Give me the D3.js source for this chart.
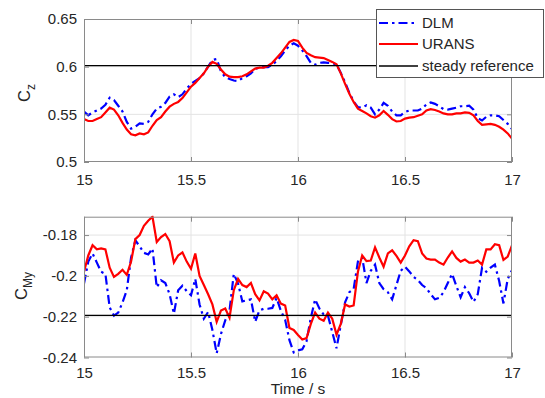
<!DOCTYPE html>
<html><head><meta charset="utf-8">
<script src="https://cdn.jsdelivr.net/npm/d3@7"></script>
<style>
body{margin:0;background:#fff}
svg{display:block}
text{font-family:"Liberation Sans",Arial,Helvetica,sans-serif;fill:#262626}
</style>
</head><body>
<svg id="c" width="545" height="398"></svg>
<script>
const time=[15,15.02,15.04,15.06,15.08,15.1,15.12,15.14,15.16,15.18,
15.2,15.22,15.24,15.26,15.28,15.3,15.32,15.34,15.36,15.38,
15.4,15.42,15.44,15.46,15.48,15.5,15.52,15.54,15.56,15.58,
15.6,15.62,15.64,15.66,15.68,15.7,15.72,15.74,15.76,15.78,
15.8,15.82,15.84,15.86,15.88,15.9,15.92,15.94,15.96,15.98,
16,16.02,16.04,16.06,16.08,16.1,16.12,16.14,16.16,16.18,
16.2,16.22,16.24,16.26,16.28,16.3,16.32,16.34,16.36,16.38,
16.4,16.42,16.44,16.46,16.48,16.5,16.52,16.54,16.56,16.58,
16.6,16.62,16.64,16.66,16.68,16.7,16.72,16.74,16.76,16.78,
16.8,16.82,16.84,16.86,16.88,16.9,16.92,16.94,16.96,16.98,17];

const czDLM=[0.553,0.549,0.552,0.554,0.556,0.560,0.5675,0.565,0.559,0.553,
0.542,0.535,0.537,0.5405,0.540,0.542,0.550,0.556,0.558,0.562,
0.5685,0.571,0.568,0.571,0.577,0.582,0.585,0.588,0.593,0.600,
0.607,0.608,0.595,0.589,0.587,0.5855,0.585,0.588,0.590,0.593,
0.5975,0.5995,0.5995,0.5995,0.602,0.606,0.611,0.617,0.622,0.6245,
0.622,0.617,0.611,0.604,0.602,0.604,0.6045,0.604,0.6035,0.6025,
0.5935,0.5835,0.5725,0.5635,0.5575,0.557,0.5595,0.557,0.550,0.555,
0.562,0.559,0.553,0.549,0.549,0.5525,0.554,0.554,0.554,0.556,
0.5605,0.5625,0.561,0.5585,0.5555,0.555,0.556,0.557,0.5585,0.5585,
0.559,0.555,0.546,0.5435,0.5475,0.549,0.549,0.548,0.544,0.540,0.5345];

const czURANS=[0.545,0.543,0.543,0.545,0.547,0.552,0.557,0.555,0.549,0.541,
0.534,0.529,0.528,0.530,0.529,0.531,0.538,0.544,0.547,0.553,
0.558,0.561,0.563,0.567,0.573,0.579,0.583,0.588,0.593,0.600,
0.605,0.603,0.597,0.592,0.5895,0.589,0.589,0.590,0.592,0.595,
0.598,0.599,0.599,0.601,0.604,0.609,0.614,0.620,0.626,0.628,
0.627,0.620,0.6145,0.612,0.610,0.6095,0.609,0.607,0.605,0.6025,
0.593,0.582,0.5715,0.563,0.556,0.5535,0.551,0.548,0.5465,0.549,
0.5535,0.5495,0.545,0.5425,0.543,0.5455,0.5465,0.547,0.5485,0.550,
0.554,0.5555,0.5545,0.553,0.551,0.550,0.550,0.551,0.551,0.552,
0.5515,0.549,0.543,0.539,0.5395,0.540,0.539,0.537,0.534,0.530,0.5245];

const cmyDLM=[-0.2038,-0.193,-0.189,-0.1935,-0.198,-0.199,-0.2155,-0.2195,-0.218,-0.213,
-0.207,-0.191,-0.1826,-0.1855,-0.1887,-0.1895,-0.1866,-0.2056,-0.2022,-0.2035,
-0.209,-0.2185,-0.2071,-0.2048,-0.2075,-0.2095,-0.2015,-0.214,-0.221,-0.2177,
-0.2265,-0.238,-0.2285,-0.2218,-0.217,-0.199,-0.2038,-0.2125,-0.212,-0.2115,
-0.2225,-0.2169,-0.2161,-0.2161,-0.2157,-0.2108,-0.2172,-0.2215,-0.2315,-0.2375,
-0.2365,-0.236,-0.232,-0.2205,-0.2115,-0.216,-0.219,-0.2195,-0.2275,-0.2355,
-0.224,-0.213,-0.208,-0.2065,-0.193,-0.191,-0.2035,-0.1975,-0.1945,-0.2035,
-0.2065,-0.208,-0.2115,-0.2045,-0.1975,-0.1955,-0.1978,-0.2005,-0.202,-0.2045,
-0.206,-0.209,-0.2115,-0.2108,-0.208,-0.2035,-0.199,-0.205,-0.2105,-0.2055,
-0.2085,-0.2127,-0.209,-0.196,-0.198,-0.196,-0.1945,-0.2025,-0.2135,-0.2015,-0.1972];

const cmyURANS=[-0.198,-0.190,-0.185,-0.187,-0.1865,-0.187,-0.196,-0.2005,-0.199,-0.197,
-0.1995,-0.193,-0.182,-0.180,-0.1755,-0.173,-0.171,-0.1834,-0.181,-0.1795,
-0.183,-0.1935,-0.190,-0.1885,-0.193,-0.1965,-0.189,-0.200,-0.2045,-0.209,
-0.214,-0.2225,-0.217,-0.216,-0.2205,-0.207,-0.2015,-0.2045,-0.2055,-0.2035,
-0.209,-0.212,-0.2075,-0.2087,-0.2115,-0.2095,-0.2136,-0.2145,-0.2255,-0.2265,
-0.229,-0.2312,-0.2305,-0.2235,-0.218,-0.221,-0.222,-0.218,-0.221,-0.2288,
-0.2235,-0.214,-0.215,-0.2145,-0.198,-0.190,-0.1928,-0.1925,-0.186,-0.191,
-0.1955,-0.189,-0.1875,-0.1902,-0.1935,-0.190,-0.1855,-0.1825,-0.183,-0.189,
-0.1915,-0.192,-0.192,-0.1935,-0.1945,-0.191,-0.188,-0.1912,-0.193,-0.192,
-0.1935,-0.1935,-0.1925,-0.1945,-0.187,-0.187,-0.1845,-0.185,-0.1922,-0.1905,-0.185];

const czSteady=0.601;
const cmySteady=-0.2194;

const xTicks=[15,15.5,16,16.5,17];
const xTickLabels=["15","15.5","16","16.5","17"];
const czTicks=[0.5,0.55,0.6,0.65];
const czTickLabels=["0.5","0.55","0.6","0.65"];
const cmyTicks=[-0.24,-0.22,-0.2,-0.18];
const cmyTickLabels=["-0.24","-0.22","-0.2","-0.18"];
const seriesNames=["DLM","URANS","steady reference"];
const seriesColors=["#0000ff","#ff0000","#000000"];
const xLabel="Time / s";

const svg=d3.select("#c");
const x=d3.scaleLinear().domain([15,17]).range([84,512]);
const FS=15;

function panel(id,y,yTicks,yLabels,dlm,urans,steady,labMain,labSub,labX,labY,padB){
  const [y0,y1]=y.range();
  const g=svg.append("g");
  g.append("g").selectAll("line").data(xTicks.slice(1,-1)).join("line")
    .attr("x1",d=>x(d)).attr("x2",d=>x(d)).attr("y1",y1).attr("y2",y0)
    .attr("stroke","#e3e3e3").attr("stroke-width",1);
  g.append("g").selectAll("line").data(yTicks.filter(d=>Math.abs(y(d)-y0)>2&&Math.abs(y(d)-y1)>2)).join("line")
    .attr("x1",x.range()[0]).attr("x2",x.range()[1]).attr("y1",d=>y(d)).attr("y2",d=>y(d))
    .attr("stroke","#e3e3e3").attr("stroke-width",1);
  svg.append("clipPath").attr("id",id).append("rect")
    .attr("x",x.range()[0]).attr("y",y1-1).attr("width",x.range()[1]-x.range()[0]).attr("height",y0-y1+2);
  const lines=g.append("g").attr("clip-path",`url(#${id})`);
  const line=d3.line().x((d,i)=>x(time[i])).y(d=>y(d));
  lines.append("path").datum(dlm).attr("d",line).attr("fill","none")
    .attr("stroke",seriesColors[0]).attr("stroke-width",2.2).attr("stroke-dasharray","9,4,2.5,4");
  lines.append("path").datum(urans).attr("d",line).attr("fill","none")
    .attr("stroke",seriesColors[1]).attr("stroke-width",2.2);
  lines.append("line").attr("x1",x(15)).attr("x2",x(17)).attr("y1",y(steady)).attr("y2",y(steady))
    .attr("stroke",seriesColors[2]).attr("stroke-width",1.3);
  const ax=[
    [d3.axisBottom(x).tickValues(xTicks).tickFormat((d,i)=>xTickLabels[i]),`translate(0,${y0})`],
    [d3.axisTop(x).tickValues(xTicks).tickFormat(""),`translate(0,${y1})`],
    [d3.axisLeft(y).tickValues(yTicks).tickFormat((d,i)=>yLabels[i]),`translate(${x.range()[0]},0)`],
    [d3.axisRight(y).tickValues(yTicks).tickFormat(""),`translate(${x.range()[1]},0)`]
  ];
  ax.forEach(([a,t],k)=>{
    const s=g.append("g").attr("transform",t)
      .call(a.tickSizeInner(-5).tickSizeOuter(0).tickPadding(k==0?padB:7));
    s.select(".domain").remove();
    s.selectAll(".tick line").attr("stroke","#8a8a8a");
    s.selectAll("text").attr("font-size",FS).attr("fill","#333")
      .style("font-family",'"Liberation Sans",Arial,sans-serif');
  });
  g.append("rect").attr("x",x.range()[0]+0.5).attr("y",y1+0.5)
    .attr("width",x.range()[1]-x.range()[0]-1).attr("height",y0-y1-1)
    .attr("fill","none").attr("stroke","#8a8a8a").attr("stroke-width",1);
  const t=g.append("text").attr("transform",`translate(${labX},${labY}) rotate(-90)`)
    .attr("text-anchor","middle").attr("font-size",16.5).attr("fill","#333");
  t.append("tspan").text(labMain);
  t.append("tspan").attr("dy",5).attr("font-size",12).text(labSub);
}

const yTop=d3.scaleLinear().domain([0.5,0.65]).range([162,19]);
const yBot=d3.scaleLinear().domain([-0.24,-0.171]).range([357.5,216.7]);
panel("clipTop",yTop,czTicks,czTickLabels,czDLM,czURANS,czSteady,"C","z",29.5,93,12);
panel("clipBot",yBot,cmyTicks,cmyTickLabels,cmyDLM,cmyURANS,cmySteady,"C","My",27,286,9.5);

svg.append("text").attr("x",298).attr("y",394).attr("text-anchor","middle")
  .attr("font-size",15.5).attr("fill","#333").text(xLabel);

const lg=svg.append("g");
lg.append("rect").attr("x",376.5).attr("y",9.5).attr("width",167).attr("height",68)
  .attr("fill","#fff").attr("stroke","#555").attr("stroke-width",1);
const ly=[23,44,66];
seriesNames.forEach((n,i)=>{
  const l=lg.append("line").attr("x1",379).attr("x2",418).attr("y1",ly[i]).attr("y2",ly[i])
    .attr("stroke",seriesColors[i]).attr("stroke-width",i==2?1.3:2.2);
  if(i==0) l.attr("stroke-dasharray","9,4,2.5,4");
  lg.append("text").attr("x",422).attr("y",ly[i]).attr("dy","0.35em")
    .attr("font-size",FS).attr("fill","#262626").text(n);
});
</script>
</body></html>
